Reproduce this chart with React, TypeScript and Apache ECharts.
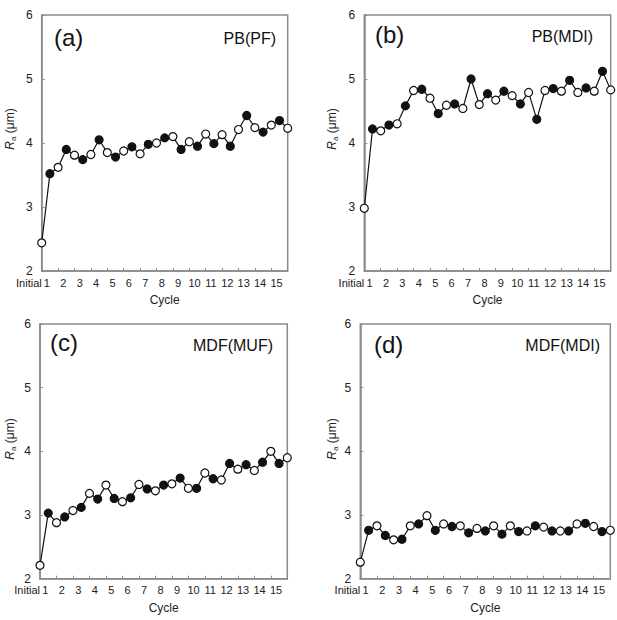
import React, { useEffect, useRef } from "react";
import * as echarts from "echarts";

// Half-cycle positions: 0 = Initial, 1..30 = measurements (2 per cycle)
const cycleLabels = ["Initial", "1", "2", "3", "4", "5", "6", "7", "8", "9", "10", "11", "12", "13", "14", "15"];
const yTicks = [2, 3, 4, 5, 6];

const panelA = [2.44, 3.52, 3.62, 3.90, 3.81, 3.74, 3.82, 4.05, 3.85, 3.78, 3.875, 3.94, 3.83, 3.98, 4.0, 4.08, 4.10, 3.90, 4.02, 3.95, 4.14, 3.99, 4.13, 3.95, 4.21, 4.43, 4.24, 4.17, 4.28, 4.35, 4.23];
const panelB = [2.98, 4.22, 4.19, 4.28, 4.30, 4.58, 4.82, 4.84, 4.70, 4.46, 4.59, 4.61, 4.54, 5.00, 4.60, 4.77, 4.67, 4.81, 4.74, 4.61, 4.79, 4.37, 4.82, 4.85, 4.81, 4.98, 4.79, 4.86, 4.81, 5.12, 4.83];
const panelC = [2.21, 3.03, 2.88, 2.97, 3.07, 3.12, 3.34, 3.25, 3.47, 3.26, 3.21, 3.27, 3.48, 3.41, 3.38, 3.47, 3.49, 3.58, 3.42, 3.42, 3.66, 3.57, 3.55, 3.81, 3.72, 3.79, 3.70, 3.83, 4.00, 3.81, 3.90];
const panelD = [2.26, 2.76, 2.83, 2.68, 2.61, 2.62, 2.83, 2.86, 2.99, 2.76, 2.86, 2.82, 2.83, 2.72, 2.79, 2.75, 2.83, 2.70, 2.83, 2.74, 2.75, 2.83, 2.81, 2.75, 2.75, 2.75, 2.86, 2.87, 2.82, 2.74, 2.76];

const panelTags = ["(a)", "(b)", "(c)", "(d)"];
const panelNames = ["PB(PF)", "PB(MDI)", "MDF(MUF)", "MDF(MDI)"];
const panelData = [panelA, panelB, panelC, panelD];

const FONT = "Liberation Sans, Arial, sans-serif";
const AXIS = "#8a8a8a";

const grids = [
  { left: 41.7, top: 15, width: 246, height: 256 },
  { left: 364.3, top: 15, width: 246.4, height: 256 },
  { left: 40, top: 324, width: 247.3, height: 254.7 },
  { left: 360.3, top: 324, width: 250, height: 254.7 },
];
const tagPos = [
  { left: 54, top: 25 },
  { left: 375, top: 22 },
  { left: 50, top: 330 },
  { left: 374, top: 332 },
];
const namePos = [
  { right: 341, top: 30 },
  { right: 24, top: 28 },
  { right: 344, top: 337 },
  { right: 17, top: 337 },
];
const yTitlePos = [
  { x: 10, y: 129 },
  { x: 332, y: 129 },
  { x: 10, y: 439 },
  { x: 332, y: 439 },
];

export default function App() {
  const ref = useRef<HTMLDivElement>(null);
  useEffect(() => {
    document.body.style.margin = "0";
    const chart = echarts.init(ref.current!, undefined, { renderer: "svg" });
    const tickVals: number[] = [];
    for (let i = 2; i <= 28; i += 2) tickVals.push(i);
    const labelVals: number[] = [];
    for (let k = 1; k < cycleLabels.length; k++) labelVals.push(2 * k - 1);

    const mainX = grids.map((_, i) => ({
      type: "value",
      gridIndex: i,
      position: "bottom",
      min: 0,
      max: 30,
      interval: 2,
      axisLine: { show: true, lineStyle: { color: AXIS, width: 1.5 } },
      axisTick: { show: true, inside: true, length: 3, customValues: tickVals, lineStyle: { color: AXIS, width: 1 } },
      splitLine: { show: false },
      axisLabel: {
        customValues: labelVals,
        hideOverlap: false,
        margin: 6,
        color: "#222",
        fontFamily: FONT,
        fontSize: 11,
        formatter: (v: number) => "{n|" + cycleLabels[(v + 1) / 2] + "}",
        rich: {
          n: { fontSize: 11, fontFamily: FONT, color: "#222", padding: [0, 6, 0, 0] },
        },
      },
      name: "Cycle",
      nameLocation: "middle",
      nameGap: 23,
      nameTextStyle: { fontFamily: FONT, fontSize: 12, color: "#222" },
    }));
    // second bottom axis only carrying the "Initial" label, right-aligned at x = 0
    const initX = grids.map((_, i) => ({
      type: "value",
      gridIndex: i,
      position: "bottom",
      offset: 0,
      min: 0,
      max: 30,
      interval: 2,
      axisLine: { show: false },
      axisTick: { show: false },
      splitLine: { show: false },
      axisLabel: {
        customValues: [0],
        showMinLabel: true,
        align: "right",
        margin: 6,
        color: "#222",
        fontFamily: FONT,
        fontSize: 11,
        formatter: () => cycleLabels[0],
      },
    }));

    const yAxes = grids.map((_, i) => ({
      type: "value",
      gridIndex: i,
      min: yTicks[0],
      max: yTicks[yTicks.length - 1],
      interval: 1,
      axisLine: { show: true, lineStyle: { color: AXIS, width: 1.5 } },
      axisTick: { show: true, inside: true, length: 3, lineStyle: { color: AXIS, width: 1 } },
      splitLine: { show: false },
      axisLabel: { margin: 9, color: "#222", fontFamily: FONT, fontSize: 12 },
    }));

    const series = panelData.map((vals, i) => ({
      type: "line",
      xAxisIndex: i,
      yAxisIndex: i,
      symbol: "circle",
      symbolSize: 8,
      lineStyle: { color: "#111", width: 1.2 },
      data: vals.map((v, j) => ({
        value: [j, v],
        itemStyle: {
          color: j % 2 === 1 ? "#111" : "#fff",
          borderColor: "#111",
          borderWidth: 1.2,
        },
      })),
    }));

    const titles: any[] = [];
    panelTags.forEach((t, i) => {
      titles.push({
        text: t,
        left: tagPos[i].left,
        top: tagPos[i].top,
        padding: 0,
        textStyle: { fontFamily: FONT, fontSize: 24, fontWeight: "normal", color: "#111" },
      });
      titles.push({
        text: panelNames[i],
        right: namePos[i].right,
        top: namePos[i].top,
        padding: 0,
        textStyle: { fontFamily: FONT, fontSize: 16, fontWeight: "normal", color: "#111" },
      });
    });

    const yTitles = yTitlePos.map((p) => ({
      type: "text",
      x: p.x,
      y: p.y,
      rotation: Math.PI / 2,
      style: {
        text: "{r|R}{s|a}{t| (μm)}",
        align: "center",
        verticalAlign: "middle",
        rich: {
          r: { fontFamily: FONT, fontSize: 12, fontStyle: "italic", fill: "#222" },
          s: { fontFamily: FONT, fontSize: 8, fill: "#222", padding: [6, 0, 0, 0] },
          t: { fontFamily: FONT, fontSize: 12, fill: "#222" },
        },
      },
    }));

    chart.setOption({
      animation: false,
      backgroundColor: "#fff",
      title: titles,
      graphic: yTitles,
      grid: grids.map((g) => ({ ...g, show: true, borderColor: AXIS, borderWidth: 1.5, backgroundColor: "transparent", containLabel: false })),
      xAxis: [...mainX, ...initX],
      yAxis: yAxes,
      series,
    });
    return () => chart.dispose();
  }, []);
  return <div ref={ref} style={{ position: "absolute", left: 0, top: 0, width: 617, height: 620 }} />;
}
